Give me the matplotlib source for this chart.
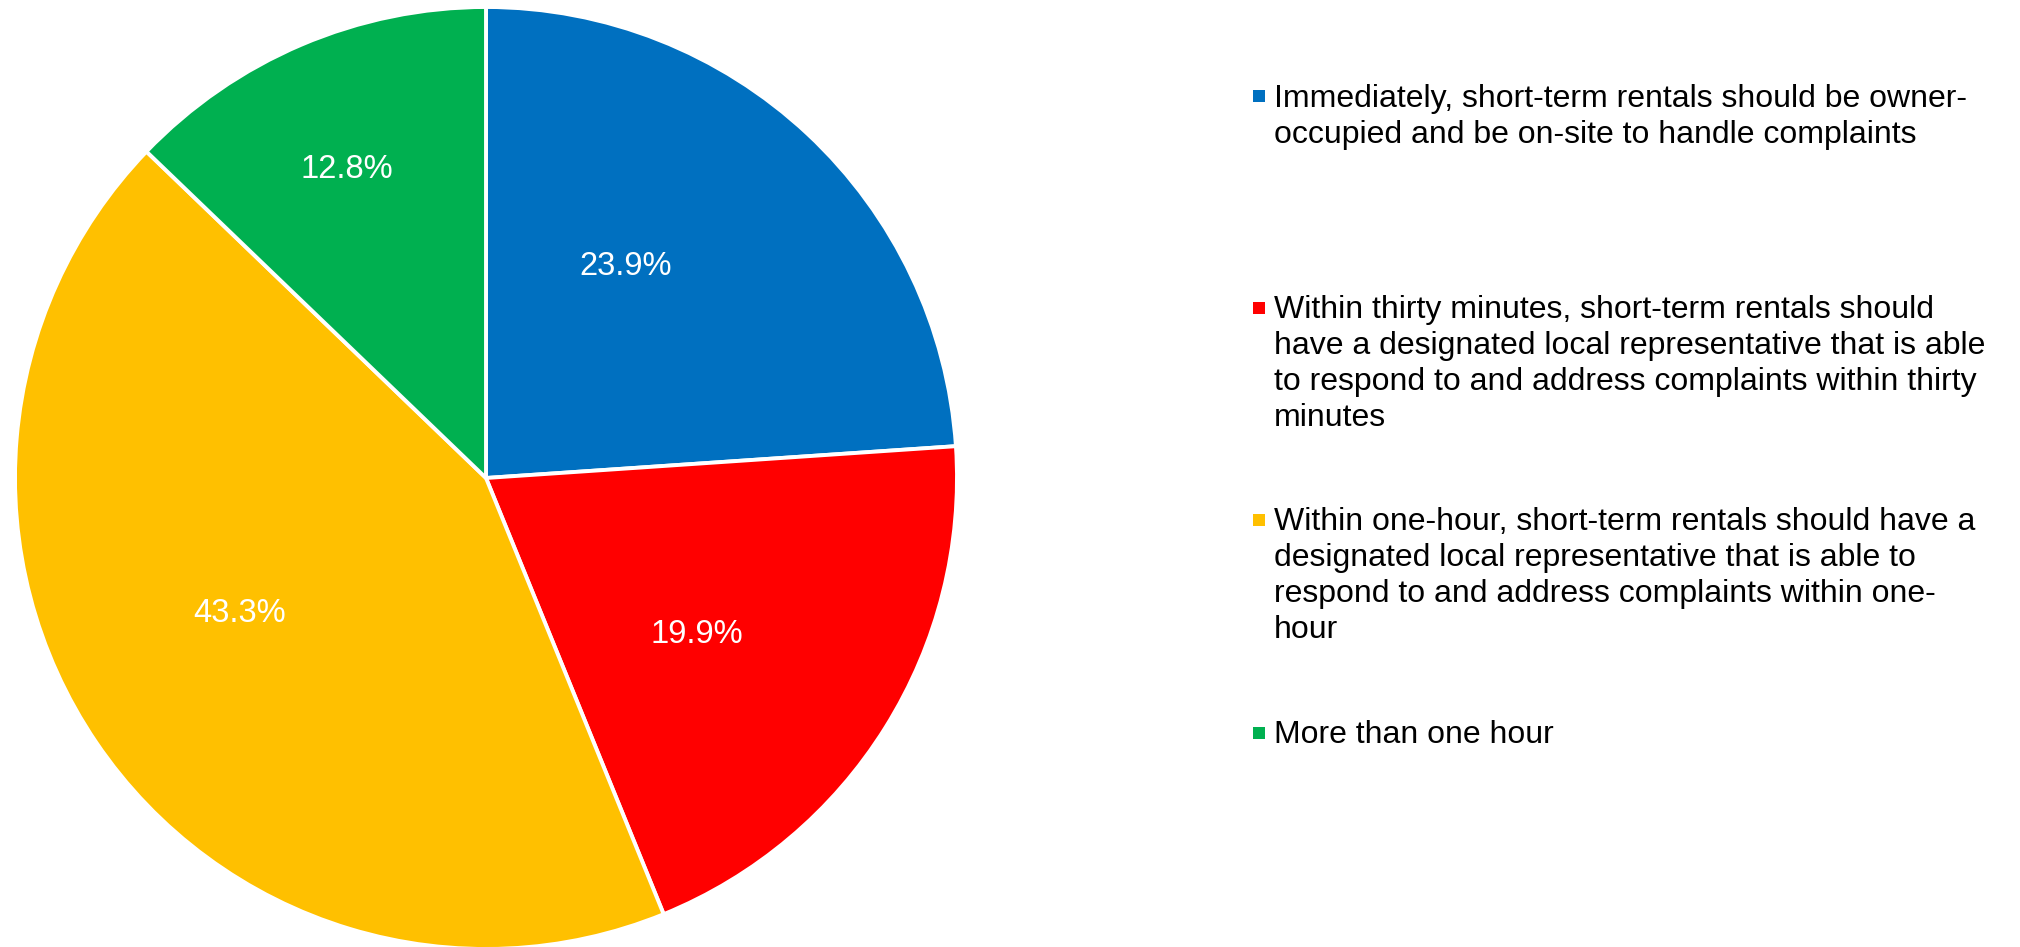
import matplotlib.pyplot as plt
from matplotlib.patches import Rectangle

plt.rcParams['font.family'] = ['Liberation Sans', 'DejaVu Sans']

categories = [
    "Immediately, short-term rentals should be owner-\n"
    "occupied and be on-site to handle complaints",
    "Within thirty minutes, short-term rentals should\n"
    "have a designated local representative that is able\n"
    "to respond to and address complaints within thirty\n"
    "minutes",
    "Within one-hour, short-term rentals should have a\n"
    "designated local representative that is able to\n"
    "respond to and address complaints within one-\n"
    "hour",
    "More than one hour",
]
shares = [23.9, 19.9, 43.3, 12.8]
colors = ['#0070C0', '#FF0000', '#FFC000', '#00B050']

# baseline position of each percentage inside its slice (pie radius = 1)
label_xy = [(0.297, 0.431), (0.447, -0.350), (-0.523, -0.306), (-0.296, 0.637)]

W, H = 2020, 947
fig = plt.figure(figsize=(W / 100, H / 100), dpi=100)

# pie: centre (486, 478) px, radius 471 px
cx, cy, r = 486, 478, 471
ax = fig.add_axes([(cx - r) / W, (H - cy - r) / H, 2 * r / W, 2 * r / H])
wedges, _ = ax.pie(shares, colors=colors, startangle=90, counterclock=False,
                   radius=1, wedgeprops=dict(edgecolor='white', linewidth=2.8))
ax.set_xlim(-1, 1)
ax.set_ylim(-1, 1)
ax.set_aspect('equal')
ax.axis('off')

for v, (x, y) in zip(shares, label_xy):
    ax.text(x, y, f'{v:.1f}%', color='white', fontsize=23.5,
            ha='center', va='baseline')

# legend drawn by hand: evenly spaced entries, one text per wrapped line
first_baseline = [107, 318, 530, 743]
line_step = 36
sq = 12
for label, col, yb in zip(categories, colors, first_baseline):
    yc = yb - 10.5
    fig.patches.append(Rectangle((1253 / W, 1 - (yc + sq / 2) / H), sq / W, sq / H,
                                 transform=fig.transFigure, facecolor=col,
                                 edgecolor='none'))
    for k, line in enumerate(label.split('\n')):
        fig.text(1274 / W, 1 - (yb + k * line_step) / H, line, fontsize=23,
                 va='baseline', ha='left', color='black')

fig.savefig('out.png', dpi=100, facecolor='white')
